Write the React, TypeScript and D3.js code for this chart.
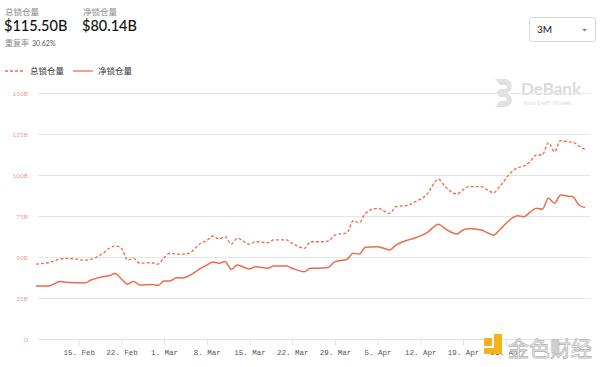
import React, { useEffect, useRef } from 'react';
import * as d3 from 'd3';

const dates = [
  '2021-02-08', '2021-02-10', '2021-02-12', '2021-02-13', '2021-02-15', '2021-02-16', '2021-02-17',
  '2021-02-19', '2021-02-20', '2021-02-21', '2021-02-22', '2021-02-23', '2021-02-24', '2021-02-25',
  '2021-02-27', '2021-02-28', '2021-03-01', '2021-03-02', '2021-03-03', '2021-03-04', '2021-03-05',
  '2021-03-07', '2021-03-08', '2021-03-09', '2021-03-10', '2021-03-11', '2021-03-12', '2021-03-13',
  '2021-03-15', '2021-03-16', '2021-03-18', '2021-03-19', '2021-03-21', '2021-03-22', '2021-03-24',
  '2021-03-25', '2021-03-27', '2021-03-28', '2021-03-29', '2021-03-31', '2021-04-01', '2021-04-02',
  '2021-04-03', '2021-04-05', '2021-04-07', '2021-04-08', '2021-04-10', '2021-04-11', '2021-04-13',
  '2021-04-15', '2021-04-16', '2021-04-18', '2021-04-19', '2021-04-20', '2021-04-22', '2021-04-23',
  '2021-04-24', '2021-04-25', '2021-04-27', '2021-04-28', '2021-04-29', '2021-04-30', '2021-05-01',
  '2021-05-02', '2021-05-03', '2021-05-04', '2021-05-05', '2021-05-06', '2021-05-07', '2021-05-08',
  '2021-05-09',
];

const totalLocked = [
  45.7, 46.5, 48.8, 49.2, 48.5, 48.0, 48.6,
  52.3, 55.3, 56.7, 55.3, 48.2, 49.2, 46.2,
  46.5, 45.7, 49.6, 52.3, 51.7, 51.7, 52.2,
  58.4, 60.0, 62.8, 61.0, 62.4, 57.8, 61.4,
  57.8, 59.3, 58.7, 60.4, 60.4, 58.4, 55.3,
  59.3, 59.3, 59.8, 63.4, 64.8, 72.1, 70.9,
  76.6, 79.7, 76.6, 80.7, 81.5, 83.4, 87.8,
  97.4, 93.3, 88.4, 90.9, 92.9, 92.9, 90.9,
  89.2, 92.9, 102.0, 104.5, 105.5, 108.1, 112.2,
  112.2, 119.7, 114.2, 120.9, 120.3, 120.0, 117.7,
  115.5,
];

const netLocked = [
  32.3, 32.3, 35.0, 34.6, 34.3, 34.2, 36.0,
  38.0, 38.6, 40.0, 36.6, 33.5, 35.0, 33.0,
  33.3, 32.7, 35.4, 35.4, 37.4, 37.2, 38.4,
  43.1, 45.1, 47.0, 46.2, 47.2, 42.5, 45.1,
  42.7, 44.1, 43.1, 44.5, 44.5, 43.1, 41.0,
  43.1, 43.3, 43.8, 47.2, 48.6, 52.3, 51.8,
  55.9, 56.3, 54.3, 57.3, 60.4, 61.4, 64.5,
  70.0, 67.5, 64.0, 66.5, 67.3, 66.5, 64.8,
  63.4, 66.5, 73.6, 75.2, 74.6, 77.3, 79.7,
  79.1, 85.8, 82.8, 87.8, 87.2, 86.8, 81.7,
  80.14,
];

const yTicks = [0, 25, 50, 75, 100, 125, 150];
const xTicks = ['2021-02-15', '2021-02-22', '2021-03-01', '2021-03-08', '2021-03-15', '2021-03-22',
  '2021-03-29', '2021-04-05', '2021-04-12', '2021-04-19', '2021-04-26'];

const W = 600;
const H = 367;
const LINE = '#ee6b4d';

export default function App() {
  const ref = useRef<SVGSVGElement>(null);

  useEffect(() => {
    const svg = d3.select(ref.current);
    svg.selectAll('*').remove();

    const parse = d3.utcParse('%Y-%m-%d');
    const data = dates.map((d, i) => ({ date: parse(d)!, total: totalLocked[i], net: netLocked[i] }));

    const x = d3.scaleUtc()
      .domain([parse('2021-02-08')!, parse('2021-05-09')!])
      .range([36, 585]);
    const y = d3.scaleLinear().domain([0, 150]).range([339, 93]);

    // header
    const font = 'Lato, "Noto Sans CJK SC", sans-serif';
    svg.append('text').attr('x', 5).attr('y', 15).attr('font-size', 8.5).attr('fill', '#8a8a8a')
      .attr('font-family', font).text('总锁仓量');
    svg.append('text').attr('x', 4).attr('y', 31).attr('font-size', 14.5).attr('fill', '#111')
      .attr('font-family', font).attr('font-weight', 500).text('$115.50B');
    svg.append('text').attr('x', 83).attr('y', 15).attr('font-size', 8.5).attr('fill', '#8a8a8a')
      .attr('font-family', font).text('净锁仓量');
    svg.append('text').attr('x', 82).attr('y', 31).attr('font-size', 14.5).attr('fill', '#111')
      .attr('font-family', font).attr('font-weight', 500).text('$80.14B');
    svg.append('text').attr('x', 5).attr('y', 46).attr('font-size', 8).attr('fill', '#8a8a8a')
      .attr('font-family', font).text('重复率');
    svg.append('text').attr('x', 32).attr('y', 46).attr('font-size', 7).attr('fill', '#555')
      .attr('font-family', font).text('30.62%');

    // dropdown
    svg.append('rect').attr('x', 529.5).attr('y', 17.5).attr('width', 66).attr('height', 24)
      .attr('rx', 2).attr('fill', '#fff').attr('stroke', '#d9d9d9');
    svg.append('text').attr('x', 537).attr('y', 33).attr('font-size', 10).attr('fill', '#111')
      .attr('font-family', font).text('3M');
    svg.append('path').attr('d', 'M582,29 L587,29 L584.5,31.5 Z').attr('fill', '#888');

    // legend
    svg.append('line').attr('x1', 5).attr('x2', 24).attr('y1', 71).attr('y2', 71)
      .attr('stroke', LINE).attr('stroke-width', 1.3).attr('stroke-dasharray', '3,2');
    svg.append('text').attr('x', 30).attr('y', 74).attr('font-size', 8.5).attr('fill', '#333')
      .attr('font-family', font).text('总锁仓量');
    svg.append('line').attr('x1', 73).attr('x2', 93).attr('y1', 71).attr('y2', 71)
      .attr('stroke', LINE).attr('stroke-width', 1.3);
    svg.append('text').attr('x', 98).attr('y', 74).attr('font-size', 8.5).attr('fill', '#333')
      .attr('font-family', font).text('净锁仓量');

    // DeBank watermark
    const wm = svg.append('g').attr('opacity', 0.35);
    wm.append('path').attr('d', 'M495,79 h11 a9,7.5 0 0 1 0,14 a9,7.5 0 0 1 0,14 h-11 l5,-6 h5 a2,2 0 0 0 0,-4 h-5 l-4,-4 l4,-4 h5 a2,2 0 0 0 0,-4 h-5 z')
      .attr('fill', '#aaa');
    wm.append('text').attr('x', 521).attr('y', 95).attr('font-size', 17).attr('font-weight', 700)
      .attr('fill', '#999').attr('font-family', 'Lato, sans-serif').text('DeBank');
    wm.append('text').attr('x', 523).attr('y', 105).attr('font-size', 6.5).attr('fill', '#999')
      .attr('font-family', 'Lato, sans-serif').text('Your DeFi Wallet');

    // grid
    svg.append('g').selectAll('line').data(yTicks.slice(1)).enter().append('line')
      .attr('x1', 38).attr('x2', 590)
      .attr('y1', d => y(d) + 0.5).attr('y2', d => y(d) + 0.5)
      .attr('stroke', '#e6e6e6');

    svg.append('g').selectAll('text').data(yTicks).enter().append('text')
      .attr('x', 28).attr('y', d => y(d) + 2.5).attr('text-anchor', 'end')
      .attr('font-size', 6.5).attr('fill', '#f0a090').attr('font-family', 'Lato, sans-serif')
      .text(d => (d === 0 ? '0' : `${d}B`));

    // x axis
    const xAxis = d3.axisBottom(x)
      .tickValues(xTicks.map(d => parse(d)!))
      .tickSize(6)
      .tickFormat(d => d3.utcFormat('%-d. %b')(d as Date));
    const gx = svg.append('g').attr('transform', `translate(0,${339.5})`).call(xAxis);
    gx.select('.domain').attr('d', 'M38,0H590').attr('stroke', '#dde3ee');
    gx.selectAll('.tick line').attr('stroke', '#dde3ee');
    gx.selectAll('.tick text').attr('font-family', '"Liberation Mono", monospace')
      .attr('font-size', 7.5).attr('fill', '#555').attr('dy', '0.9em');

    // lines
    const lineT = d3.line<any>().x(d => x(d.date)).y(d => y(d.total)).curve(d3.curveMonotoneX);
    const lineN = d3.line<any>().x(d => x(d.date)).y(d => y(d.net)).curve(d3.curveMonotoneX);
    svg.append('path').datum(data).attr('d', lineT).attr('fill', 'none')
      .attr('stroke', LINE).attr('stroke-width', 1.3).attr('stroke-dasharray', '3,2');
    svg.append('path').datum(data).attr('d', lineN).attr('fill', 'none')
      .attr('stroke', LINE).attr('stroke-width', 1.5);

    // 金色财经 watermark (overlays the last tick label, as in the source image)
    const jw = svg.append('g');
    jw.append('rect').attr('x', 484).attr('y', 338).attr('width', 8).attr('height', 8).attr('fill', '#f5b21b');
    jw.append('path').attr('d', 'M494,334 h8 v20 h-18 v-6 h10 z').attr('fill', '#f5b21b');
    jw.append('text').attr('x', 508).attr('y', 356).attr('font-size', 21)
      .attr('font-family', '"Noto Sans CJK SC", sans-serif').attr('fill', '#fff')
      .attr('stroke', '#bbb').attr('stroke-width', 0.9).text('金色财经');
  }, []);

  return (
    <svg ref={ref} width={W} height={H}
      style={{ position: 'absolute', left: 0, top: 0, background: '#fff', display: 'block' }} />
  );
}
